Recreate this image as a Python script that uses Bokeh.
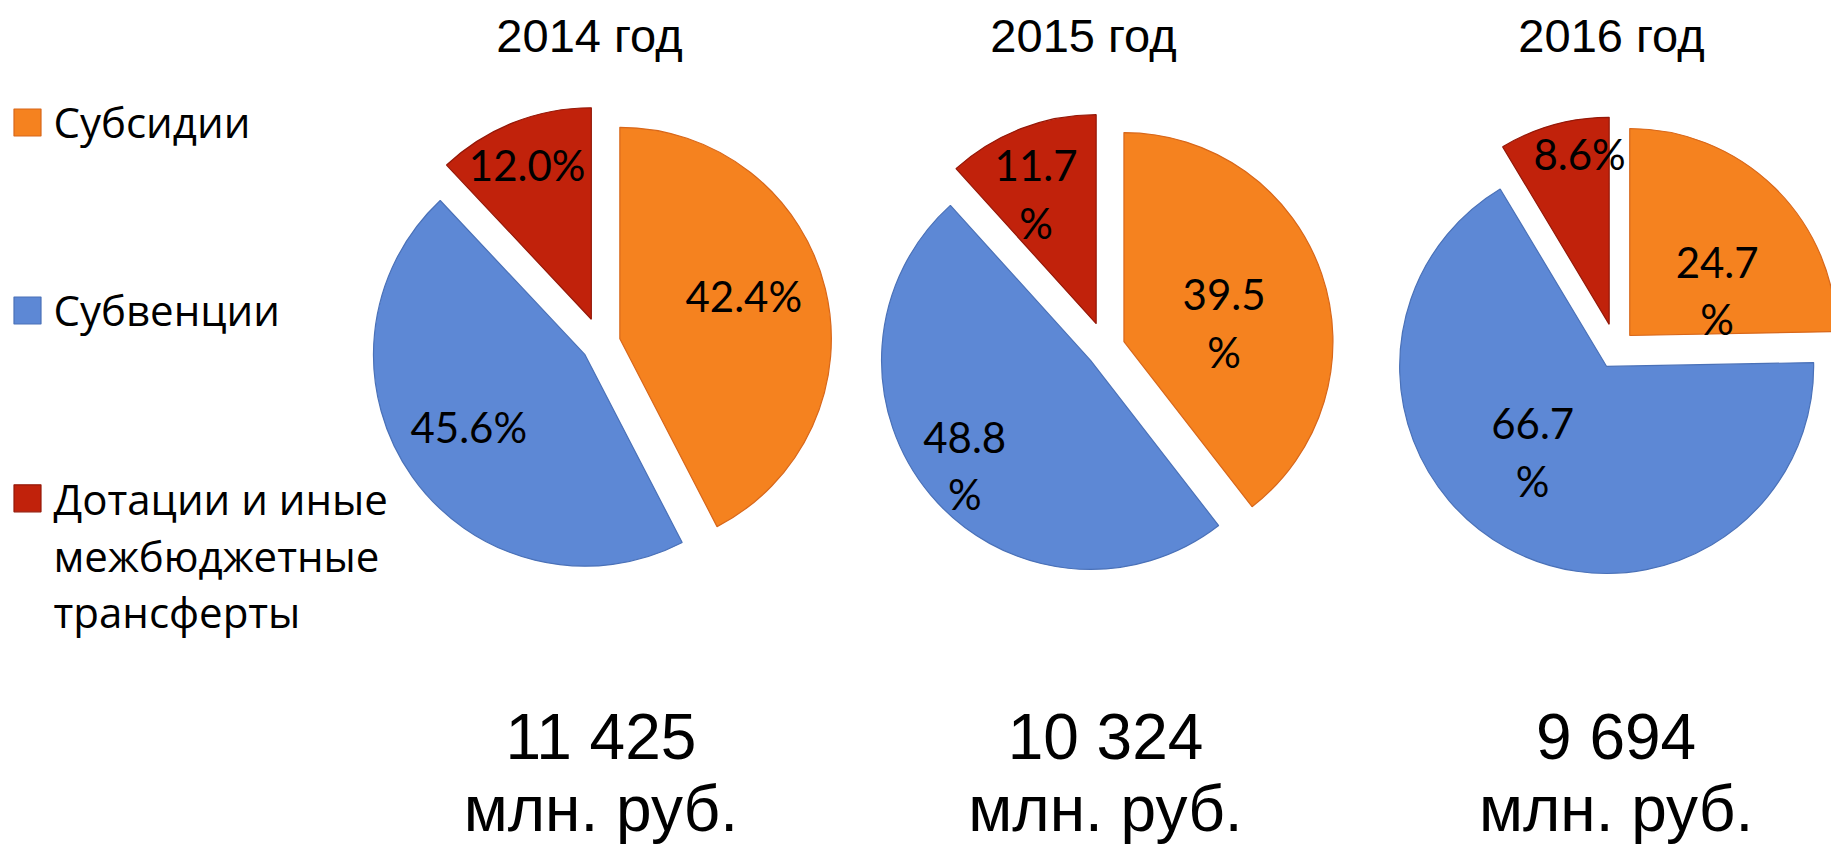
import math
from bokeh.plotting import figure
from bokeh.models import Range1d, ColumnDataSource
from bokeh.core.properties import value
from bokeh.embed import file_html
from bokeh.resources import INLINE

# ---------------- data ----------------
years = ["2014 год", "2015 год", "2016 год"]
categories = ["Субсидии", "Субвенции", "Дотации и иные межбюджетные трансферты"]
shares_2014 = [42.4, 45.6, 12.0]
shares_2015 = [39.5, 48.8, 11.7]
shares_2016 = [24.7, 66.7, 8.6]
totals = ["11 425", "10 324", "9 694"]
total_unit = "млн. руб."

# ---------------- style / layout (page pixels, y measured upward) ----------------
W, H = 1831, 846
COLORS = ["#F5821F", "#5D88D5", "#C1220B"]
EDGES = ["#D8671A", "#4A71B8", "#951808"]
PIE_CX = [600.4, 1105.0, 1615.6]
PIE_CY = [503.1, 498.6, 497.1]
PIE_R = [211.5, 209.0, 207.0]
EXPLODE = [19.5, 19.5, 26.0]
TITLE_X = [589, 1083, 1611]
TITLE_Y = 811
TOTAL_Y = 110
UNIT_Y = 38
# label placement: (fraction of radius, clockwise nudge in degrees)
LABEL_PLACE = [
    [(0.7125, -4.85), (0.7397, 2.9), (0.9106, -0.9)],
    [(0.580, 7.0), (0.8775, 0.1), (0.809, -3.2)],
    [(0.565, 15.3), (0.639, 10.1), (0.961, 4.9)],
]
LABEL_WRAP = [
    [False, False, False],
    [True, True, True],
    [True, True, False],
]
LEGEND_LINES = [["Субсидии"], ["Субвенции"], ["Дотации и иные", "межбюджетные", "трансферты"]]
LEGEND_SQ_X = 27
LEGEND_SQ_Y = [724.0, 536.0, 348.2]
LEGEND_TX = 53
LEGEND_MID = [725.0, 537.5, 348.0]
LEGEND_LINE_STEP = 56.7

p = figure(width=W, height=H, output_backend="svg", toolbar_location=None,
           x_range=Range1d(0, W), y_range=Range1d(0, H), min_border=0, title=None,
           background_fill_color="white", border_fill_color="white")
p.axis.visible = False
p.grid.visible = False
p.outline_line_color = None

all_shares = [shares_2014, shares_2015, shares_2016]

wx, wy, wr, ws, we, wc, wl = [], [], [], [], [], [], []
lx, ly, lt = [], [], []
for i, shares in enumerate(all_shares):
    total = sum(shares)
    cum = 0.0
    for j, v in enumerate(shares):
        a = cum / total
        b = (cum + v) / total
        cum += v
        start = math.pi / 2 - 2 * math.pi * a
        end = math.pi / 2 - 2 * math.pi * b
        bis = (start + end) / 2
        d = EXPLODE[j]
        wx.append(PIE_CX[i] + d * math.cos(bis))
        wy.append(PIE_CY[i] + d * math.sin(bis))
        wr.append(PIE_R[i])
        ws.append(start)
        we.append(end)
        wc.append(COLORS[j])
        wl.append(EDGES[j])
        f, nudge = LABEL_PLACE[i][j]
        th = bis - math.radians(nudge)
        lx.append(PIE_CX[i] + f * PIE_R[i] * math.cos(th))
        ly.append(PIE_CY[i] + f * PIE_R[i] * math.sin(th))
        txt = f"{v:.1f}%"
        if LABEL_WRAP[i][j]:
            txt = txt[:-1] + "\n%"
        lt.append(txt)

src = ColumnDataSource(dict(x=wx, y=wy, r=wr, s=ws, e=we, c=wc, l=wl))
p.wedge(x="x", y="y", radius="r", start_angle="s", end_angle="e", direction="clock",
        fill_color="c", line_color="l", line_width=1.2, source=src)

p.text(x=lx, y=ly, text=lt, text_align="center", text_baseline="middle",
       text_font=value("Lato"), text_font_size="42px", text_color="black",
       text_line_height=1.15)

# titles
p.text(x=TITLE_X, y=[TITLE_Y] * 3, text=years, text_align="center",
       text_baseline="middle", text_font=value("Liberation Sans"),
       text_font_size="47px", text_color="black")

# totals
p.text(x=PIE_CX, y=[TOTAL_Y] * 3, text=totals, text_align="center",
       text_baseline="middle", text_font=value("Liberation Sans"),
       text_font_size="64px", text_color="black")
p.text(x=PIE_CX, y=[UNIT_Y] * 3, text=[total_unit] * 3, text_align="center",
       text_baseline="middle", text_font=value("Liberation Sans"),
       text_font_size="64px", text_color="black")

# legend
p.scatter(x=[LEGEND_SQ_X] * 3, y=LEGEND_SQ_Y, marker="square", size=27,
          fill_color=COLORS, line_color=EDGES, line_width=1.2)
tx, ty, tt = [], [], []
for k, lines in enumerate(LEGEND_LINES):
    for m, line in enumerate(lines):
        tx.append(LEGEND_TX)
        ty.append(LEGEND_MID[k] - m * LEGEND_LINE_STEP)
        tt.append(line)
p.text(x=tx, y=ty, text=tt, text_align="left", text_baseline="middle",
       text_font=value("Open Sans"), text_font_size="42px", text_color="black")

open("out.html", "w").write(file_html(p, INLINE))
